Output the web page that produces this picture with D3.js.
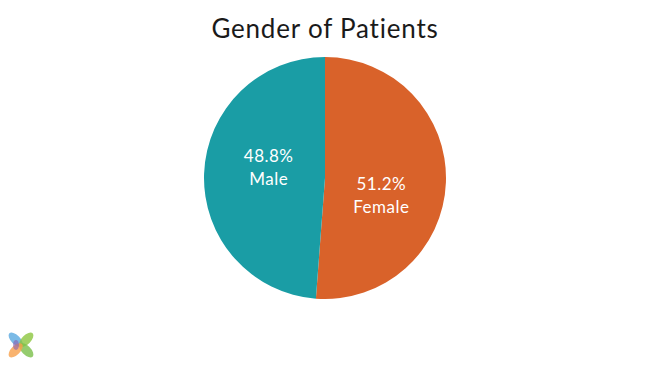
<!DOCTYPE html>
<html><head><meta charset="utf-8">
<script src="https://cdn.jsdelivr.net/npm/d3@7"></script>
<style>body{margin:0;background:#fff}svg{display:block}</style>
</head><body>
<svg id="c" width="650" height="366"></svg>
<script>
const title = "Gender of Patients";
const categories = ["Female", "Male"];
const values = [51.2, 48.8];
const colors = ["#d9622a", "#1a9da5"];

const svg = d3.select("#c");
const W = 650, H = 366;
const cx = 325, cy = 178, R = 121;

svg.append("text").attr("x", cx).attr("y", 38).attr("text-anchor", "middle")
  .attr("font-family", "Lato, sans-serif").attr("font-weight", 400).attr("font-size", 26)
  .attr("letter-spacing", 0.8).attr("fill", "#1a1a1a")
  .text(title);

const data = categories.map((c, i) => ({cat: c, val: values[i], color: colors[i]}));
const pie = d3.pie().sort(null).value(d => d.val);
const arcs = pie(data);
const arc = d3.arc().innerRadius(0).outerRadius(R);
const g = svg.append("g").attr("transform", `translate(${cx},${cy})`);
g.selectAll("path").data(arcs).join("path").attr("d", arc).attr("fill", d => d.data.color);

const lr = 58, rot = 0.2;
const lab = g.selectAll("g.lab").data(arcs).join("g").attr("class", "lab")
  .attr("transform", d => {
    const a = (d.startAngle + d.endAngle) / 2 + rot;
    return `translate(${lr * Math.sin(a)},${-lr * Math.cos(a) + 3})`;
  });
lab.append("text").attr("text-anchor", "middle").attr("y", -5)
  .attr("font-family", "Lato, sans-serif").attr("font-weight", 400).attr("font-size", 17)
  .attr("letter-spacing", 0.5).attr("fill", "#fff")
  .text(d => d.data.val.toFixed(1) + "%");
lab.append("text").attr("text-anchor", "middle").attr("y", 18)
  .attr("font-family", "Lato, sans-serif").attr("font-weight", 400).attr("font-size", 17)
  .attr("letter-spacing", 0.5).attr("fill", "#fff")
  .text(d => d.data.cat);

// logo
const logo = svg.append("g").attr("transform", "translate(21,345)");
const petals = [
  {a: -45, c: "#5aa9e0"},
  {a: 45, c: "#8cc63f"},
  {a: 135, c: "#7bbf4a"},
  {a: -135, c: "#f7a04b"}
];
petals.forEach(p => {
  logo.append("ellipse").attr("cx", 0).attr("cy", -7.5).attr("rx", 4.5).attr("ry", 9)
    .attr("transform", `rotate(${p.a})`).attr("fill", p.c).attr("opacity", 0.8);
});
logo.append("ellipse").attr("cx", -5).attr("cy", 0).attr("rx", 3).attr("ry", 5)
  .attr("fill", "#8a5fb0").attr("opacity", 0.6);
</script>
</body></html>
